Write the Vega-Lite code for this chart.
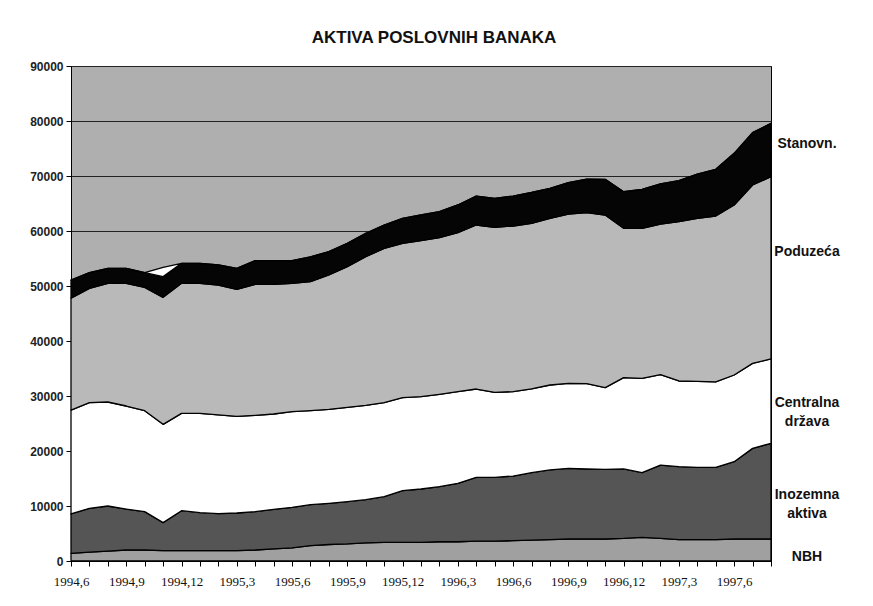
{
  "$schema": "https://vega.github.io/schema/vega-lite/v6.json",
  "width": 700,
  "height": 495,
  "autosize": {"type": "none"},
  "padding": {"left": 71, "top": 66, "right": 102, "bottom": 45},
  "background": "white",
  "title": {
    "text": "AKTIVA POSLOVNIH BANAKA",
    "font": "Liberation Sans",
    "fontSize": 17,
    "fontWeight": "bold",
    "color": "#111",
    "anchor": "middle",
    "offset": 13,
    "dx": 13
  },
  "datasets": {
    "mjeseci": [
      {"mjesec": "1994,6", "NBH": 1400, "Inozemna": 7150, "Centralna": 18900, "Poduzeca": 20350, "Stanovn": 3290, "Ostalo": 0},
      {"mjesec": "1994,7", "NBH": 1600, "Inozemna": 7980, "Centralna": 19210, "Poduzeca": 20790, "Stanovn": 2840, "Ostalo": 0},
      {"mjesec": "1994,8", "NBH": 1800, "Inozemna": 8200, "Centralna": 18910, "Poduzeca": 21580, "Stanovn": 2720, "Ostalo": 0},
      {"mjesec": "1994,9", "NBH": 2000, "Inozemna": 7450, "Centralna": 18730, "Poduzeca": 22310, "Stanovn": 2720, "Ostalo": 0},
      {"mjesec": "1994,10", "NBH": 2000, "Inozemna": 6970, "Centralna": 18360, "Poduzeca": 22430, "Stanovn": 2660, "Ostalo": 0},
      {"mjesec": "1994,11", "NBH": 1900, "Inozemna": 5070, "Centralna": 17880, "Poduzeca": 23090, "Stanovn": 3760, "Ostalo": 1700},
      {"mjesec": "1994,12", "NBH": 1900, "Inozemna": 7250, "Centralna": 17700, "Poduzeca": 23640, "Stanovn": 3630, "Ostalo": 0},
      {"mjesec": "1995,1", "NBH": 1900, "Inozemna": 6890, "Centralna": 18060, "Poduzeca": 23640, "Stanovn": 3630, "Ostalo": 0},
      {"mjesec": "1995,2", "NBH": 1900, "Inozemna": 6700, "Centralna": 17950, "Poduzeca": 23630, "Stanovn": 3640, "Ostalo": 0},
      {"mjesec": "1995,3", "NBH": 1900, "Inozemna": 6830, "Centralna": 17570, "Poduzeca": 23090, "Stanovn": 3820, "Ostalo": 0},
      {"mjesec": "1995,4", "NBH": 2000, "Inozemna": 6970, "Centralna": 17510, "Poduzeca": 23820, "Stanovn": 4310, "Ostalo": 0},
      {"mjesec": "1995,5", "NBH": 2200, "Inozemna": 7200, "Centralna": 17330, "Poduzeca": 23570, "Stanovn": 4310, "Ostalo": 0},
      {"mjesec": "1995,6", "NBH": 2400, "Inozemna": 7360, "Centralna": 17390, "Poduzeca": 23340, "Stanovn": 4120, "Ostalo": 0},
      {"mjesec": "1995,7", "NBH": 2800, "Inozemna": 7440, "Centralna": 17090, "Poduzeca": 23460, "Stanovn": 4510, "Ostalo": 0},
      {"mjesec": "1995,8", "NBH": 3000, "Inozemna": 7490, "Centralna": 17090, "Poduzeca": 24420, "Stanovn": 4240, "Ostalo": 0},
      {"mjesec": "1995,9", "NBH": 3100, "Inozemna": 7690, "Centralna": 17150, "Poduzeca": 25580, "Stanovn": 4240, "Ostalo": 0},
      {"mjesec": "1995,10", "NBH": 3300, "Inozemna": 7850, "Centralna": 17150, "Poduzeca": 27030, "Stanovn": 4250, "Ostalo": 0},
      {"mjesec": "1995,11", "NBH": 3400, "Inozemna": 8300, "Centralna": 17090, "Poduzeca": 28060, "Stanovn": 4240, "Ostalo": 0},
      {"mjesec": "1995,12", "NBH": 3400, "Inozemna": 9380, "Centralna": 16920, "Poduzeca": 28060, "Stanovn": 4540, "Ostalo": 0},
      {"mjesec": "1996,1", "NBH": 3400, "Inozemna": 9690, "Centralna": 16790, "Poduzeca": 28360, "Stanovn": 4670, "Ostalo": 0},
      {"mjesec": "1996,2", "NBH": 3500, "Inozemna": 10010, "Centralna": 16790, "Poduzeca": 28490, "Stanovn": 4720, "Ostalo": 0},
      {"mjesec": "1996,3", "NBH": 3500, "Inozemna": 10620, "Centralna": 16670, "Poduzeca": 28910, "Stanovn": 5030, "Ostalo": 0},
      {"mjesec": "1996,4", "NBH": 3600, "Inozemna": 11610, "Centralna": 16060, "Poduzeca": 29820, "Stanovn": 5270, "Ostalo": 0},
      {"mjesec": "1996,5", "NBH": 3600, "Inozemna": 11600, "Centralna": 15470, "Poduzeca": 30000, "Stanovn": 5270, "Ostalo": 0},
      {"mjesec": "1996,6", "NBH": 3700, "Inozemna": 11750, "Centralna": 15340, "Poduzeca": 30120, "Stanovn": 5450, "Ostalo": 0},
      {"mjesec": "1996,7", "NBH": 3800, "Inozemna": 12260, "Centralna": 15240, "Poduzeca": 30090, "Stanovn": 5610, "Ostalo": 0},
      {"mjesec": "1996,8", "NBH": 3900, "Inozemna": 12650, "Centralna": 15450, "Poduzeca": 30300, "Stanovn": 5460, "Ostalo": 0},
      {"mjesec": "1996,9", "NBH": 4000, "Inozemna": 12850, "Centralna": 15450, "Poduzeca": 30790, "Stanovn": 5700, "Ostalo": 0},
      {"mjesec": "1996,10", "NBH": 4000, "Inozemna": 12730, "Centralna": 15510, "Poduzeca": 31090, "Stanovn": 6120, "Ostalo": 0},
      {"mjesec": "1996,11", "NBH": 4000, "Inozemna": 12670, "Centralna": 14850, "Poduzeca": 31390, "Stanovn": 6480, "Ostalo": 0},
      {"mjesec": "1996,12", "NBH": 4100, "Inozemna": 12630, "Centralna": 16600, "Poduzeca": 27160, "Stanovn": 6660, "Ostalo": 0},
      {"mjesec": "1997,1", "NBH": 4300, "Inozemna": 11760, "Centralna": 17150, "Poduzeca": 27280, "Stanovn": 7090, "Ostalo": 0},
      {"mjesec": "1997,2", "NBH": 4100, "Inozemna": 13350, "Centralna": 16430, "Poduzeca": 27390, "Stanovn": 7280, "Ostalo": 0},
      {"mjesec": "1997,3", "NBH": 3900, "Inozemna": 13250, "Centralna": 15580, "Poduzeca": 28970, "Stanovn": 7450, "Ostalo": 0},
      {"mjesec": "1997,4", "NBH": 3900, "Inozemna": 13130, "Centralna": 15640, "Poduzeca": 29630, "Stanovn": 8060, "Ostalo": 0},
      {"mjesec": "1997,5", "NBH": 3900, "Inozemna": 13130, "Centralna": 15520, "Poduzeca": 30180, "Stanovn": 8480, "Ostalo": 0},
      {"mjesec": "1997,6", "NBH": 4000, "Inozemna": 14060, "Centralna": 15760, "Poduzeca": 30910, "Stanovn": 9390, "Ostalo": 0},
      {"mjesec": "1997,7", "NBH": 4000, "Inozemna": 16480, "Centralna": 15460, "Poduzeca": 32420, "Stanovn": 9520, "Ostalo": 0},
      {"mjesec": "1997,8", "NBH": 4000, "Inozemna": 17400, "Centralna": 15330, "Poduzeca": 33150, "Stanovn": 9700, "Ostalo": 0}
    ],
    "serije": [
      {"serija": "NBH", "red": 1},
      {"serija": "Inozemna", "red": 2},
      {"serija": "Centralna", "red": 3},
      {"serija": "Poduzeca", "red": 4},
      {"serija": "Stanovn", "red": 5},
      {"serija": "Ostalo", "red": 6}
    ]
  },
  "layer": [
    {
      "data": {"name": "mjeseci"},
      "transform": [
        {"fold": ["NBH", "Inozemna", "Centralna", "Poduzeca", "Stanovn", "Ostalo"], "as": ["serija", "vrijednost"]},
        {"lookup": "serija", "from": {"data": {"name": "serije"}, "key": "serija", "fields": ["red"]}}
      ],
      "mark": {"type": "area", "interpolate": "linear", "opacity": 1, "fillOpacity": 1, "stroke": "#000", "strokeWidth": 1.3, "strokeJoin": "round"},
      "encoding": {
        "x": {
          "field": "mjesec",
          "type": "ordinal",
          "sort": null,
          "scale": {"type": "point", "padding": 0},
          "axis": {
            "title": null,
            "labelAngle": 0,
            "labelOverlap": false,
            "labelExpr": "indexof(['1994,6','1994,9','1994,12','1995,3','1995,6','1995,9','1995,12','1996,3','1996,6','1996,9','1996,12','1997,3','1997,6'], datum.value) >= 0 ? datum.value : ''",
            "labelFont": "Liberation Serif",
            "labelFontSize": 13,
            "labelColor": "#111",
            "labelPadding": 9,
            "tickSize": 5,
            "tickColor": "#000",
            "domainColor": "#000",
            "grid": false
          }
        },
        "y": {
          "field": "vrijednost",
          "type": "quantitative",
          "stack": "zero",
          "scale": {"domain": [0, 90000], "nice": false},
          "axis": {
            "title": null,
            "values": [0, 10000, 20000, 30000, 40000, 50000, 60000, 70000, 80000, 90000],
            "format": "d",
            "grid": true,
            "gridColor": "#222",
            "gridWidth": 1,
            "gridOpacity": 1,
            "labelFont": "Liberation Sans",
            "labelFontWeight": "bold",
            "labelFontSize": 12,
            "labelColor": "#222",
            "labelPadding": 3,
            "tickSize": 5,
            "tickColor": "#000",
            "domainColor": "#000"
          }
        },
        "color": {
          "field": "serija",
          "type": "nominal",
          "legend": null,
          "scale": {
            "domain": ["NBH", "Inozemna", "Centralna", "Poduzeca", "Stanovn", "Ostalo"],
            "range": ["#a0a0a0", "#555555", "#ffffff", "#b9b9b9", "#050505", "#ffffff"]
          }
        },
        "order": {"field": "red", "type": "quantitative"}
      }
    },
    {
      "data": {
        "values": [
          {"oznaka": "Stanovn.", "v": 75800},
          {"oznaka": "Poduzeća", "v": 56200},
          {"oznaka": "Centralna\ndržava", "v": 28700},
          {"oznaka": "Inozemna\naktiva", "v": 12000},
          {"oznaka": "NBH", "v": 700}
        ]
      },
      "mark": {
        "type": "text",
        "align": "center",
        "baseline": "middle",
        "dx": 36,
        "font": "Liberation Sans",
        "fontSize": 14,
        "fontWeight": "bold",
        "lineBreak": "\n",
        "lineHeight": 19,
        "color": "#111"
      },
      "encoding": {
        "x": {"datum": "1997,8", "type": "ordinal"},
        "y": {"field": "v", "type": "quantitative", "stack": null},
        "text": {"field": "oznaka"}
      }
    }
  ],
  "config": {
    "view": {"fill": "#afafaf", "stroke": "#000", "strokeWidth": 1}
  }
}
